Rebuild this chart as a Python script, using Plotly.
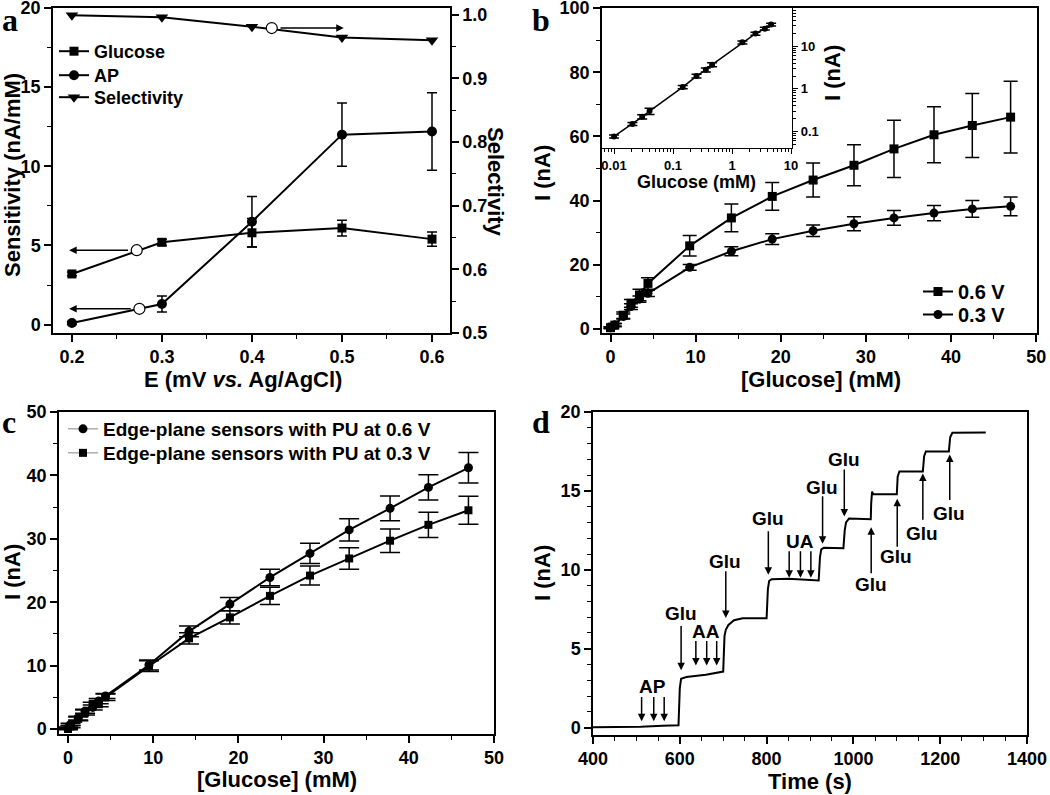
import plotly.graph_objects as go

W, H = 1050, 795
def px(x): return x / W
def py(y): return 1 - y / H

FONT = "Liberation Sans"
BOLD = 700
BLACK = "black"

# ---------------- Panel a data ----------------
potential = [0.2, 0.3, 0.4, 0.5, 0.6]
sens_glucose = [3.2, 5.2, 5.8, 6.1, 5.4]
sens_glucose_err = [0.12, 0.2, 0.9, 0.5, 0.45]
sens_ap = [0.1, 1.3, 6.5, 12.0, 12.2]
sens_ap_err = [0.1, 0.5, 1.6, 2.0, 2.45]
selectivity = [0.999, 0.996, 0.981, 0.964, 0.960]
open_pot = [0.272, 0.275]
open_sens = [4.7, 1.0]
open_sel_pot = [0.422]
open_sel = [0.979]
arrow_end_pot = [0.197, 0.197, 0.502]

# ---------------- Panel b data ----------------
conc_b = [0, 0.5, 1.5, 2.4, 3.4, 4.4, 9.3, 14.2, 19, 23.8, 28.6, 33.3, 38, 42.5, 47]
i_06 = [0.4, 1.2, 4.3, 8.0, 10.6, 14.2, 25.9, 34.6, 41.3, 46.4, 51.0, 56.1, 60.5, 63.4, 66.0]
i_06_err = [0.3, 0.5, 1.0, 1.2, 1.8, 1.8, 3.2, 4.3, 4.3, 5.3, 6.4, 8.9, 8.7, 10.0, 11.2]
i_03 = [0.4, 1.3, 3.9, 7.0, 9.3, 11.1, 19.2, 24.2, 28.0, 30.6, 32.8, 34.6, 36.1, 37.4, 38.2]
i_03_err = [0.2, 0.4, 0.8, 0.9, 1.0, 1.0, 0.9, 1.4, 1.7, 1.8, 2.2, 2.3, 2.4, 2.6, 2.9]

# inset (log-log)
conc_inset = [0.01, 0.0205, 0.030, 0.040, 0.146, 0.25, 0.36, 0.46, 1.5, 2.5, 3.6, 4.6]
i_inset = [0.076, 0.15, 0.22, 0.30, 1.1, 2.0, 2.8, 3.7, 12.4, 19.9, 26.0, 32.4]
i_inset_err = [0.006, 0.012, 0.025, 0.05, 0.1, 0.2, 0.3, 0.4, 1.0, 1.6, 2.0, 2.4]
inset_xticks = [0.01, 0.1, 1, 10]
inset_xticktext = ["0.01", "0.1", "1", "10"]
inset_yticks = [0.1, 1, 10]
inset_yticktext = ["0.1", "1", "10"]

# ---------------- Panel c data ----------------
conc_c = [0, 0.3, 1.2, 2.0, 2.9, 3.6, 4.4, 9.5, 14.2, 19, 23.7, 28.4, 33, 37.8, 42.3, 47]
c_06 = [0.2, 0.7, 1.7, 2.8, 3.4, 4.4, 5.2, 10.1, 15.4, 19.7, 23.9, 27.7, 31.4, 34.8, 38.1, 41.2]
c_06_err = [0.1, 0.2, 0.3, 0.3, 0.4, 0.4, 0.4, 0.8, 0.85, 1.05, 1.3, 1.6, 1.75, 1.95, 2.0, 2.4]
c_03 = [0.0, 0.4, 1.6, 2.6, 3.8, 4.0, 5.0, 9.9, 14.3, 17.6, 21.0, 24.2, 26.9, 29.7, 32.2, 34.5]
c_03_err = [0.1, 0.2, 0.3, 0.4, 0.4, 0.5, 0.5, 0.85, 0.9, 1.05, 1.35, 1.5, 1.7, 1.85, 2.0, 2.2]

# ---------------- Panel d data ----------------
time_d = [400, 510, 560, 597, 600, 603, 615, 660, 700, 703, 706, 712, 725, 745, 800, 803, 806,
          812, 850, 920, 923, 926, 932, 977, 980, 983, 990, 1040, 1041, 1043, 1046, 1100, 1102,
          1106, 1160, 1163, 1167, 1220, 1223, 1228, 1305]
current_d = [0.02, 0.05, 0.12, 0.14, 2.5, 3.1, 3.2, 3.35, 3.55, 5.8, 6.2, 6.5, 6.8, 6.93, 6.93,
             8.8, 9.3, 9.4, 9.43, 9.32, 10.8, 11.3, 11.4, 11.37, 12.5, 13.0, 13.25, 13.2, 14.2,
             14.95, 14.78, 14.78, 15.9, 16.23, 16.23, 17.2, 17.5, 17.5, 18.4, 18.68, 18.7]
arrow_t = [512, 540, 564, 603, 637, 662, 685, 706, 804, 852, 878, 902, 929, 979, 1041, 1101, 1160, 1222]
arrow_tail = [2.03, 2.03, 2.03, 6.53, 5.58, 5.58, 5.58, 10.0, 12.54, 11.27, 11.27, 11.27,
              14.76, 16.45, 9.68, 11.37, 13.07, 14.33]
arrow_head = [0.4, 0.4, 0.4, 3.64, 3.93, 3.93, 3.93, 6.95, 9.68, 9.5, 9.5, 9.5,
              11.65, 13.38, 12.7, 14.5, 16.1, 17.3]
label_text = ["AP", "Glu", "AA", "Glu", "Glu", "UA", "Glu", "Glu", "Glu", "Glu", "Glu", "Glu"]
label_t = [538, 603, 661, 705, 803, 877, 927, 978, 1040, 1099, 1157, 1220]
label_y = [2.62, 7.2, 6.11, 10.53, 13.23, 11.8, 15.24, 17.02, 9.09, 10.85, 12.33, 13.59]

fig = go.Figure()

def ebar(arr, w):
    return dict(type="data", array=arr, color=BLACK, thickness=1.5, width=w)

line = dict(color=BLACK, width=2)

# ---- panel a traces ----
fig.add_trace(go.Scatter(x=potential, y=sens_glucose, error_y=ebar(sens_glucose_err, 5),
                         mode="lines+markers", name="Glucose", line=line,
                         marker=dict(symbol="square", size=9, color=BLACK),
                         xaxis="x", yaxis="y", legend="legend"))
fig.add_trace(go.Scatter(x=potential, y=sens_ap, error_y=ebar(sens_ap_err, 5),
                         mode="lines+markers", name="AP", line=line,
                         marker=dict(symbol="circle", size=10, color=BLACK),
                         xaxis="x", yaxis="y", legend="legend4"))
fig.add_trace(go.Scatter(x=potential, y=selectivity, mode="lines+markers", name="Selectivity",
                         line=line, marker=dict(symbol="triangle-down", size=11, color=BLACK),
                         xaxis="x", yaxis="y2", legend="legend5"))
fig.add_trace(go.Scatter(x=open_pot, y=open_sens, mode="markers", showlegend=False,
                         marker=dict(symbol="circle", size=11, color="white",
                                     line=dict(color=BLACK, width=1.2)),
                         xaxis="x", yaxis="y"))
fig.add_trace(go.Scatter(x=open_sel_pot, y=open_sel, mode="markers", showlegend=False,
                         marker=dict(symbol="circle", size=11, color="white",
                                     line=dict(color=BLACK, width=1.2)),
                         xaxis="x", yaxis="y2"))

# ---- panel b traces ----
fig.add_trace(go.Scatter(x=conc_b, y=i_06, error_y=ebar(i_06_err, 7), mode="lines+markers",
                         name="0.6 V", line=line, marker=dict(symbol="square", size=9, color=BLACK),
                         xaxis="x2", yaxis="y3", legend="legend2"))
fig.add_trace(go.Scatter(x=conc_b, y=i_03, error_y=ebar(i_03_err, 7), mode="lines+markers",
                         name="0.3 V", line=line, marker=dict(symbol="circle", size=9, color=BLACK),
                         xaxis="x2", yaxis="y3", legend="legend6"))
fig.add_trace(go.Scatter(x=conc_inset, y=i_inset, error_y=ebar(i_inset_err, 5), mode="lines+markers",
                         showlegend=False, line=dict(color=BLACK, width=1.5),
                         marker=dict(symbol="circle", size=6, color=BLACK),
                         xaxis="x3", yaxis="y4"))

# ---- panel c traces ----
fig.add_trace(go.Scatter(x=conc_c, y=c_06, error_y=ebar(c_06_err, 10), mode="lines+markers",
                         showlegend=False, line=line, marker=dict(symbol="circle", size=9, color=BLACK),
                         xaxis="x4", yaxis="y5"))
fig.add_trace(go.Scatter(x=conc_c, y=c_03, error_y=ebar(c_03_err, 10), mode="lines+markers",
                         showlegend=False, line=line, marker=dict(symbol="square", size=8, color=BLACK),
                         xaxis="x4", yaxis="y5"))
fig.add_trace(go.Scatter(x=[None], y=[None], mode="lines+markers",
                         name="Edge-plane sensors with PU at 0.6 V",
                         line=dict(color="#999999", width=1.2),
                         marker=dict(symbol="circle", size=9, color=BLACK),
                         xaxis="x4", yaxis="y5", legend="legend3"))
fig.add_trace(go.Scatter(x=[None], y=[None], mode="lines+markers",
                         name="Edge-plane sensors with PU at 0.3 V",
                         line=dict(color="#999999", width=1.2),
                         marker=dict(symbol="square", size=8, color=BLACK),
                         xaxis="x4", yaxis="y5", legend="legend7"))

# ---- panel d trace ----
fig.add_trace(go.Scatter(x=time_d, y=current_d, mode="lines", showlegend=False,
                         line=dict(color=BLACK, width=2), xaxis="x5", yaxis="y6"))

tickfont = dict(family=FONT, size=18, color=BLACK, weight=BOLD)

def axis(domain, rng, dtick, minor_dtick, **kw):
    d = dict(domain=domain, range=rng, dtick=dtick, ticks="outside", ticklen=7, tickwidth=1.5,
             tickcolor=BLACK, showline=True, linecolor=BLACK, linewidth=1.5, showgrid=False,
             zeroline=False, tickfont=tickfont, automargin=False, ticklabeloverflow="allow",
             minor=dict(dtick=minor_dtick, ticks="outside", ticklen=4, tickwidth=1.2,
                        tickcolor=BLACK, showgrid=False))
    d.update(kw)
    return d

da_x = [px(53), px(450)]
da_y = [py(333), py(8)]
db_x = [px(602), px(1037)]
dc_x = [px(59), px(494)]
dc_y = [py(734), py(412)]
dd_x = [px(593), px(1027)]
dd_y = [py(735), py(412)]
di_x = [px(602), px(792)]
di_y = [py(148), py(8)]

minor_log = [m * 10 ** e for e in range(-3, 2) for m in range(2, 10)]

def leg(x, ytop, size):
    return dict(x=px(x), y=py(ytop), xanchor="left", yanchor="top", bgcolor="rgba(0,0,0,0)",
                font=dict(family=FONT, size=size, color=BLACK, weight=BOLD), tracegroupgap=0,
                itemwidth=30)

fig.update_layout(
    width=W, height=H, margin=dict(l=0, r=0, t=0, b=0, autoexpand=False),
    paper_bgcolor="white", plot_bgcolor="white",
    font=dict(family=FONT, color=BLACK, weight=BOLD),
    xaxis=axis(da_x, [0.179, 0.62], 0.1, 0.05, anchor="y", mirror=True),
    yaxis=axis(da_y, [-0.53, 20], 5, 2.5, anchor="x"),
    yaxis2=axis(da_y, [0.5, 1.0105], 0.1, 0.05, anchor="x", overlaying="y", side="right",
                tickformat=".1f"),
    xaxis2=axis(db_x, [-1.0, 50.1], 10, 5, anchor="y3", mirror=True),
    yaxis3=axis(da_y, [-1.25, 100], 20, 10, anchor="x2", mirror=True),
    xaxis3=dict(domain=di_x, type="log", range=[-2.204, 1.017], anchor="y4", mirror=True,
                showline=True, linecolor=BLACK, linewidth=1.2, showgrid=False, zeroline=False,
                ticks="outside", ticklen=5, tickwidth=1.2, tickcolor=BLACK, automargin=False,
                ticklabeloverflow="allow",
                tickvals=inset_xticks, ticktext=inset_xticktext,
                tickfont=dict(family=FONT, size=13, color=BLACK, weight=BOLD),
                minor=dict(tickvals=minor_log, ticks="outside", ticklen=3, tickwidth=1,
                           tickcolor=BLACK, showgrid=False)),
    yaxis4=dict(domain=di_y, type="log", range=[-1.39, 1.90], anchor="x3", side="right",
                mirror=True, showline=True, linecolor=BLACK, linewidth=1.2, showgrid=False,
                zeroline=False, ticks="outside", ticklen=5, tickwidth=1.2, tickcolor=BLACK,
                automargin=False, ticklabeloverflow="allow",
                tickvals=inset_yticks, ticktext=inset_yticktext,
                tickfont=dict(family=FONT, size=13, color=BLACK, weight=BOLD),
                minor=dict(tickvals=minor_log, ticks="outside", ticklen=3, tickwidth=1,
                           tickcolor=BLACK, showgrid=False)),
    xaxis4=axis(dc_x, [-1.06, 50], 10, 5, anchor="y5", mirror=True),
    yaxis5=axis(dc_y, [-0.79, 50], 10, 5, anchor="x4", mirror=True),
    xaxis5=axis(dd_x, [400, 1400], 200, 50, anchor="y6", mirror=True),
    yaxis6=axis(dd_y, [-0.47, 20], 5, 1, anchor="x5", mirror=True),
    legend=leg(54, 33, 18),
    legend4=leg(54, 57, 18),
    legend5=leg(54, 79, 18),
    legend2=leg(918, 272, 20),
    legend6=leg(918, 295, 20),
    legend3=leg(63, 410, 19),
    legend7=leg(63, 434, 19),
)

ann = []
titlefont = dict(family=FONT, size=22, color=BLACK, weight=BOLD)

def title(text, x, y, angle=0, size=22):
    f = dict(titlefont); f["size"] = size
    ann.append(dict(text=text, x=px(x), y=py(y), xref="paper", yref="paper", showarrow=False,
                    xanchor="center", yanchor="middle", textangle=angle, font=f))

title("E (mV <i>vs.</i> Ag/AgCl)", 243, 379)
title("Sensitivity (nA/mM)", 13, 175, -90)
title("Selectivity", 495, 182, 90)
title("[Glucose] (mM)", 821, 379)
title("I (nA)", 543, 173, -90)
title("Glucose (mM)", 696, 182, 0, 18)
title("I (nA)", 833, 73, -90)
title("[Glucose] (mM)", 277, 779)
title("I (nA)", 12, 572, -90)
title("Time (s)", 810, 781)
title("I (nA)", 542, 573, -90)

# panel letters
for letter, x, y in [("a", 0, 0), ("b", 530, 0), ("c", 0, 402), ("d", 530, 402)]:
    ann.append(dict(text=letter, x=px(x), y=py(y), xref="paper", yref="paper", showarrow=False,
                    xanchor="left", yanchor="top",
                    font=dict(family="Liberation Serif", size=32, color=BLACK, weight=BOLD)))

# panel a arrows
for i in range(2):
    ann.append(dict(x=arrow_end_pot[i], y=open_sens[i], ax=open_pot[i] - 0.008, ay=open_sens[i],
                    xref="x", yref="y", axref="x", ayref="y", text="", showarrow=True,
                    arrowhead=2, arrowsize=1, arrowwidth=1.5, arrowcolor=BLACK))
ann.append(dict(x=arrow_end_pot[2], y=open_sel[0], ax=open_sel_pot[0] + 0.008, ay=open_sel[0],
                xref="x", yref="y2", axref="x", ayref="y2", text="", showarrow=True,
                arrowhead=2, arrowsize=1, arrowwidth=1.5, arrowcolor=BLACK))

# panel d arrows and labels
for t, y0, y1 in zip(arrow_t, arrow_tail, arrow_head):
    ann.append(dict(x=t, y=y1, ax=t, ay=y0, xref="x5", yref="y6", axref="x5", ayref="y6",
                    text="", showarrow=True, arrowhead=2, arrowsize=1, arrowwidth=1.5,
                    arrowcolor=BLACK))
for txt, t, y in zip(label_text, label_t, label_y):
    ann.append(dict(text=txt, x=t, y=y, xref="x5", yref="y6", showarrow=False,
                    xanchor="center", yanchor="middle",
                    font=dict(family=FONT, size=19, color=BLACK, weight=BOLD)))

fig.update_layout(annotations=ann)
fig.write_html("out.html", config={"displayModeBar": False},
               post_script="document.body.style.margin='0px';document.body.style.overflow='hidden';")
